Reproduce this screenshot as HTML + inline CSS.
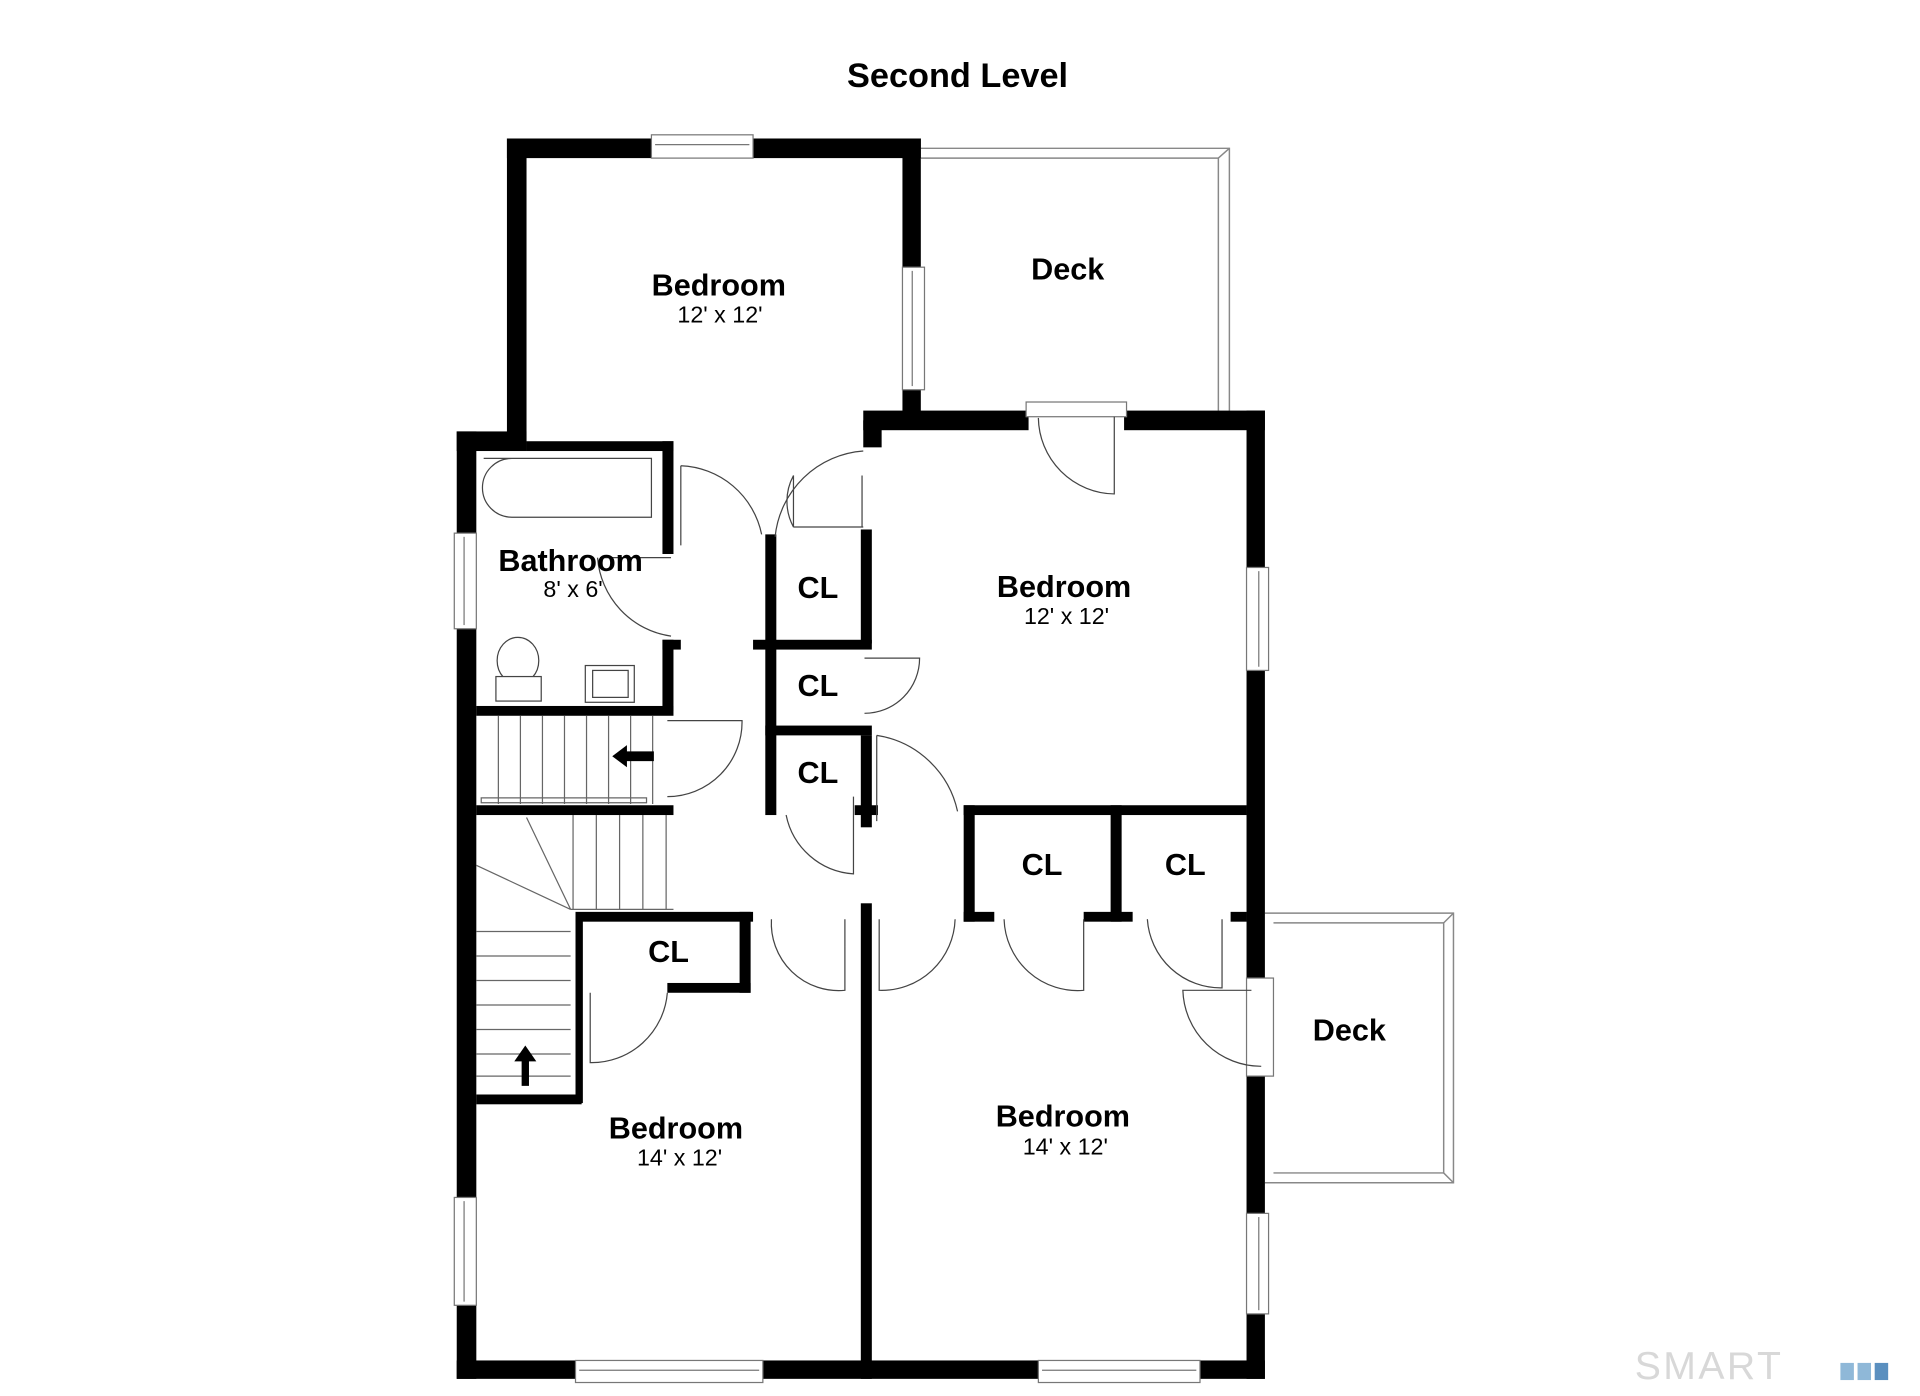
<!DOCTYPE html>
<html><head><meta charset="utf-8"><style>
html,body{margin:0;padding:0;background:#fff;}
svg{display:block}
text{font-family:"Liberation Sans",Arial,sans-serif;fill:#000}
.b{font-weight:bold;font-size:25px}
.s{font-size:19px}
</style></head><body>
<svg width="1920" height="1396" viewBox="0 0 1568 1139" preserveAspectRatio="none" xmlns="http://www.w3.org/2000/svg">
<rect width="1568" height="1139" fill="#fff"/>
<text x="782" y="71" text-anchor="middle" font-weight="bold" font-size="28">Second Level</text>
<g fill="none" stroke="#888" stroke-width="1.2">
<path d="M752 121 H1004 V335"/><path d="M752 129 H995 V335"/><path d="M995 129 L1004 121"/>
<path d="M1033 745 H1187 V965 H1033"/><path d="M1040 753 H1179 V957 H1040"/><path d="M1179 753 L1187 745 M1179 957 L1187 965"/>
</g>
<g fill="#000">
<rect x="414" y="113" width="16" height="250"/>
<rect x="414" y="113" width="338" height="16"/>
<rect x="737" y="113" width="15" height="232"/>
<rect x="705" y="335" width="135" height="16"/>
<rect x="918" y="335" width="115" height="16"/>
<rect x="705" y="343" width="15" height="22"/>
<rect x="1018" y="335" width="15" height="790"/>
<rect x="373" y="352" width="16" height="773"/>
<rect x="373" y="352" width="57" height="16"/>
<rect x="430" y="360" width="120" height="8"/>
<rect x="541" y="360" width="9" height="92"/>
<rect x="541" y="522" width="15" height="8"/>
<rect x="541" y="522" width="9" height="58"/>
<rect x="389" y="576" width="161" height="8"/>
<rect x="389" y="657" width="161" height="8"/>
<rect x="625" y="436" width="9" height="229"/>
<rect x="615" y="522" width="97" height="8"/>
<rect x="625" y="592" width="87" height="8"/>
<rect x="703" y="432" width="9" height="93"/>
<rect x="703" y="600" width="9" height="75"/>
<rect x="698" y="657" width="19" height="8"/>
<rect x="787" y="657" width="231" height="8"/>
<rect x="787" y="657" width="9" height="95"/>
<rect x="907" y="657" width="9" height="95"/>
<rect x="787" y="744" width="25" height="8"/>
<rect x="885" y="744" width="40" height="8"/>
<rect x="1005" y="744" width="13" height="8"/>
<rect x="470" y="744" width="145" height="8"/>
<rect x="604" y="744" width="9" height="66"/>
<rect x="545" y="802" width="68" height="8"/>
<rect x="470" y="750" width="6" height="150"/>
<rect x="389" y="893" width="86" height="8"/>
<rect x="703" y="737" width="9" height="388"/>
<rect x="373" y="1110" width="660" height="15"/>
</g>
<g fill="#fff" stroke="#777" stroke-width="1">
<rect x="532" y="110" width="83" height="19"/><line x1="535" y1="118" x2="612" y2="118"/>
<rect x="737" y="218" width="18" height="100"/><line x1="745" y1="221" x2="745" y2="315"/>
<rect x="838" y="328" width="82" height="12"/>
<rect x="1018" y="463" width="18" height="84"/><line x1="1028" y1="466" x2="1028" y2="544"/>
<rect x="1018" y="990" width="18" height="82"/><line x1="1028" y1="993" x2="1028" y2="1069"/>
<rect x="1018" y="798" width="22" height="80"/>
<rect x="371" y="435" width="18" height="78"/><line x1="379" y1="438" x2="379" y2="510"/>
<rect x="371" y="977" width="18" height="88"/><line x1="379" y1="980" x2="379" y2="1062"/>
<rect x="470" y="1110" width="153" height="18"/><line x1="473" y1="1118" x2="620" y2="1118"/>
<rect x="848" y="1110" width="132" height="18"/><line x1="851" y1="1118" x2="977" y2="1118"/>
</g>
<g fill="none" stroke="#444" stroke-width="1">
<path d="M910 340 V403 A63 63 0 0 1 848 341"/>
<path d="M705 368 A78 78 0 0 0 633 438"/>
<path d="M648 430 V388 A44 44 0 0 0 648 430 Z M648 430 H705 M704 388 V430"/>
<path d="M556 380 A70 70 0 0 1 622 436 M556 380 V445"/>
<path d="M548 519 A70 70 0 0 1 488 455 M490 455 H548"/>
<path d="M706 537 H751 A45 45 0 0 1 706 582"/>
<path d="M545 588 H606 A61 61 0 0 1 545 650"/>
<path d="M716 600 A80 80 0 0 1 782 662 M716 600 V670"/>
<path d="M697 650 V713 A60 60 0 0 1 642 665"/>
<path d="M630 750 A55 55 0 0 0 690 808 V750"/>
<path d="M780 750 A60 60 0 0 1 718 808 V750"/>
<path d="M820 750 A60 60 0 0 0 885 808 V750"/>
<path d="M937 750 A60 60 0 0 0 998 806 V750"/>
<path d="M1022 808 H966 A64 64 0 0 0 1030 870"/>
<path d="M545 810 A62 62 0 0 1 482 867 V810"/>
</g>
<g fill="#fff" stroke="#444" stroke-width="1">
<path d="M395 374 H532 V422 H418 A23 23 0 0 1 418 374 Z"/>
<ellipse cx="423" cy="539" rx="17" ry="19"/>
<rect x="405" y="552" width="37" height="20"/>
<rect x="478" y="543" width="40" height="30"/>
<rect x="484" y="547" width="29" height="22"/>
</g>
<g stroke="#666" stroke-width="1" fill="none">
<path d="M407 584 V656 M425 584 V656 M443 584 V656 M461 584 V656 M479 584 V656 M497 584 V656 M515 584 V656 M533 584 V656"/>
<path d="M393 651 H528 V655 H393 Z"/>
<path d="M468 665 V742 M487 665 V742 M506 665 V742 M525 665 V742 M544 665 V742 M466 742 H550"/>
<path d="M389 706 L466 742 M430 667 L466 742"/>
<path d="M389 760 H466 M389 780 H466 M389 800 H466 M389 820 H466 M389 840 H466 M389 860 H466 M389 878 H466"/>
</g>
<g fill="#000">
<path d="M500 617 L512 608 V613 H534 V621 H512 V626 Z"/>
<path d="M429 853 L438 866 H432 V886 H426 V866 H420 Z"/>
</g>
<text class="b" x="587" y="241" text-anchor="middle">Bedroom</text>
<text class="s" x="588" y="263" text-anchor="middle">12' x 12'</text>
<text class="b" x="872" y="228" text-anchor="middle">Deck</text>
<text class="b" x="466" y="466" text-anchor="middle">Bathroom</text>
<text class="s" x="468" y="487" text-anchor="middle">8' x 6'</text>
<text class="b" x="869" y="487" text-anchor="middle">Bedroom</text>
<text class="s" x="871" y="509" text-anchor="middle">12' x 12'</text>
<text class="b" x="668" y="488" text-anchor="middle">CL</text>
<text class="b" x="668" y="568" text-anchor="middle">CL</text>
<text class="b" x="668" y="639" text-anchor="middle">CL</text>
<text class="b" x="851" y="714" text-anchor="middle">CL</text>
<text class="b" x="968" y="714" text-anchor="middle">CL</text>
<text class="b" x="546" y="785" text-anchor="middle">CL</text>
<text class="b" x="1102" y="849" text-anchor="middle">Deck</text>
<text class="b" x="552" y="929" text-anchor="middle">Bedroom</text>
<text class="s" x="555" y="951" text-anchor="middle">14' x 12'</text>
<text class="b" x="868" y="919" text-anchor="middle">Bedroom</text>
<text class="s" x="870" y="942" text-anchor="middle">14' x 12'</text>
<text x="1335" y="1125" font-size="32" style="fill:#d8d8d8" letter-spacing="2">SMART</text>
<rect x="1503" y="1112" width="11" height="14" fill="#8fb8d8"/><rect x="1517" y="1112" width="11" height="14" fill="#8fb8d8"/><rect x="1531" y="1112" width="11" height="14" fill="#5a8fbf"/>
</svg>
</body></html>
